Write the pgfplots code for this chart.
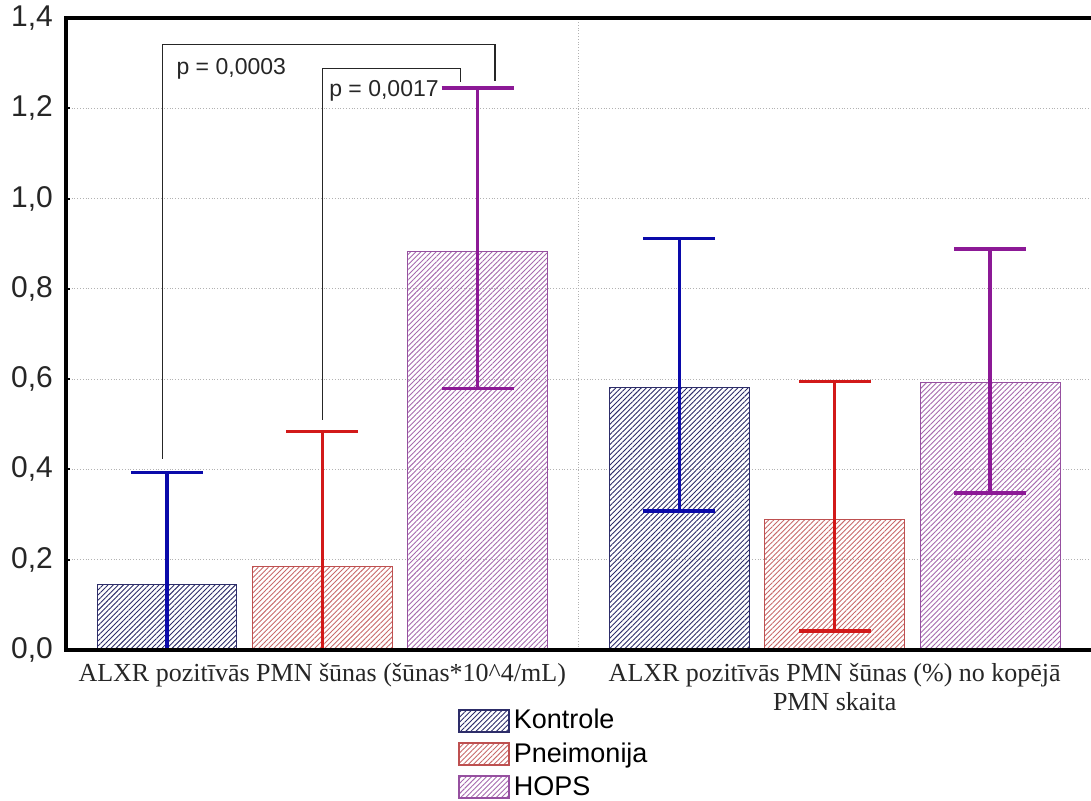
\documentclass[border=0pt]{standalone}
\usepackage{fontspec}
\setmainfont{Liberation Serif}
\newfontfamily\arial{Liberation Sans}
\usepackage{pgfplots}
\pgfplotsset{compat=1.18}
\usetikzlibrary{patterns.meta}
\definecolor{kline}{RGB}{10,10,170}
\definecolor{kbar}{RGB}{45,45,105}
\definecolor{pline}{RGB}{210,25,25}
\definecolor{pbar}{RGB}{190,80,80}
\definecolor{hline}{RGB}{140,25,150}
\definecolor{hbar}{RGB}{150,80,160}
\begin{document}
\begin{tikzpicture}
\useasboundingbox (-33pt,-75pt) rectangle (512.5pt,325pt);
\begin{axis}[name=ax, scale only axis, width=512.5pt, height=316pt,
  xmin=-0.5, xmax=1.5, ymin=0, ymax=1.4,
  axis line style={draw=none},
  xtick={0,1},
  xticklabels={{ALXR pozitīvās PMN šūnas (šūnas*10\textasciicircum 4/mL)},{ALXR pozitīvās PMN šūnas (\%) no kopējā\\PMN skaita}},
  xticklabel style={font=\fontsize{13}{14.5}\selectfont, align=center, text=black!85, yshift=-3pt},
  xtick style={draw=none},
  xtick pos=bottom, ytick pos=left,
  extra x ticks={0.5}, extra x tick labels={},
  extra x tick style={grid=major},
  ytick={0,0.2,0.4,0.6,0.8,1.0,1.2,1.4},
  ymajorgrids,
  grid style={densely dotted, black!30, line width=0.6pt},
  tick align=inside, major tick length=2pt,
  ytick style={black, line width=1pt},
  yticklabel style={font=\arial\fontsize{15}{17}\selectfont, text=black!85, xshift=-3pt},
  /pgf/number format/.cd, use comma, fixed, fixed zerofill, precision=1, assume math mode=true,
  /pgfplots/.cd,
  legend style={at={(axis description cs:0.382,-0.087)}, anchor=north west, draw=none, fill=none,
    font=\arial\fontsize{13.5}{14}\selectfont, row sep=1.5pt, inner sep=0pt},
  legend cell align=left,
  legend image code/.code={\draw[#1, line width=1pt] (0pt,-5.5pt) rectangle (25pt,5.5pt);},
]
\addplot[ybar, bar width=0.273, bar shift=0pt, draw=kbar, line width=0.5pt,
  pattern={Lines[angle=45,distance=1.8pt,line width=0.45pt]}, pattern color=kbar,
  error bars/y dir=both, error bars/y explicit,
  error bars/error bar style={kline, line width=1.6pt},
  error bars/error mark options={kline, line width=1.7pt, mark size=18pt, rotate=90}]
  coordinates {(-0.303,0.145) += (0,0.248) -= (0,0.145) (0.697,0.581) += (0,0.331) -= (0,0.273)};
\addlegendentry{Kontrole}
\addplot[ybar, bar width=0.273, bar shift=0pt, draw=pbar, line width=0.5pt,
  pattern={Lines[angle=45,distance=1.8pt,line width=0.45pt]}, pattern color=pbar!85,
  error bars/y dir=both, error bars/y explicit,
  error bars/error bar style={pline, line width=1.6pt},
  error bars/error mark options={pline, line width=1.7pt, mark size=18pt, rotate=90}]
  coordinates {(0,0.186) += (0,0.298) -= (0,0.186) (1,0.288) += (0,0.307) -= (0,0.246)};
\addlegendentry{Pneimonija}
\addplot[ybar, bar width=0.273, bar shift=0pt, draw=hbar, line width=0.5pt,
  pattern={Lines[angle=45,distance=1.8pt,line width=0.45pt]}, pattern color=hbar!85,
  error bars/y dir=both, error bars/y explicit,
  error bars/error bar style={hline, line width=1.6pt},
  error bars/error mark options={hline, line width=1.7pt, mark size=18pt, rotate=90}]
  coordinates {(0.303,0.883) += (0,0.362) -= (0,0.304) (1.303,0.592) += (0,0.296) -= (0,0.244)};
\addlegendentry{HOPS}
\draw[line width=0.6pt, black!85] (axis cs:-0.311,0.424) -- (axis cs:-0.311,1.342) -- (axis cs:0.337,1.342) -- (axis cs:0.337,1.260);
\draw[line width=0.6pt, black!85] (axis cs:0,0.510) -- (axis cs:0,1.289) -- (axis cs:0.269,1.289) -- (axis cs:0.269,1.258);
\node[anchor=west, font=\arial\fontsize{11.5}{12}\selectfont, inner sep=0pt, text=black!85] at (axis cs:-0.285,1.287) {p = 0,0003};
\node[anchor=west, font=\arial\fontsize{11.5}{12}\selectfont, inner sep=0pt, text=black!85] at (axis cs:0.013,1.238) {p = 0,0017};
\end{axis}
\draw[line width=1.8pt, line join=miter] (ax.north east) -- (ax.north west) -- (ax.south west) -- (ax.south east);
\end{tikzpicture}
\end{document}
